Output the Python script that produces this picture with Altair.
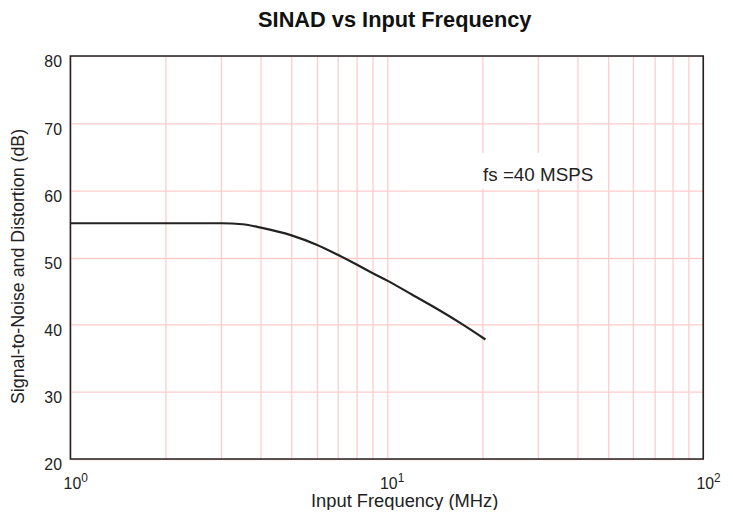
import altair as alt
import pandas as pd

# ---- data ----
freq_mhz = [1, 2, 3, 3.5, 4, 5, 6, 7, 8, 9, 10, 12, 14, 17, 20.5]
sinad_db = [55.1, 55.1, 55.1, 54.95, 54.45, 53.3, 51.9, 50.4, 49.0, 47.7, 46.6, 44.5, 42.7, 40.3, 37.8]

x_grid = [1, 2, 3, 4, 5, 6, 7, 8, 9, 10, 20, 30, 40, 50, 60, 70, 80, 90, 100]
y_ticks = [20, 30, 40, 50, 60, 70, 80]

x_tick_vals = [1, 10, 100]
x_tick_base = ["10", "10", "10"]
x_tick_exp = ["0", "1", "2"]

title_text = ["SINAD vs Input Frequency"]

ann_x = [20]
ann_y = [61.4]
ann_text = ["fs =40 MSPS"]
box_x = [19.6]
box_x2 = [33]
box_y = [60.25]
box_y2 = [65.6]

FONT = "Liberation Sans"
GRID = "#ffcccc"
INK = "#222222"
W, H = 639, 407

curve = pd.DataFrame({"f": freq_mhz, "s": sinad_db})
ticks = pd.DataFrame({"f": x_tick_vals, "b": x_tick_base, "e": x_tick_exp})
ann = pd.DataFrame({"f": ann_x, "s": ann_y, "t": ann_text})
box = pd.DataFrame({"f": box_x, "f2": box_x2, "s": box_y, "s2": box_y2})
ttl = pd.DataFrame({"t": title_text})

xscale = alt.Scale(type="log", domain=[1, 100], nice=False)
yscale = alt.Scale(domain=[20, 80], nice=False, zero=False)

xaxis = alt.Axis(values=x_grid, grid=True, gridColor=GRID, gridWidth=1.3,
                 labels=False, ticks=False, domain=False,
                 title="Input Frequency (MHz)", titleFont=FONT, titleFontSize=18.5,
                 titleFontWeight="normal", titleColor=INK, titleX=337, titleY=48,
                 titleBaseline="alphabetic", titleAlign="center")
yaxis = alt.Axis(values=y_ticks, grid=True, gridColor=GRID, gridWidth=1.3,
                 ticks=False, domain=False, labelFont=FONT, labelFontSize=16,
                 labelColor=INK, labelPadding=9, labelOffset=6,
                 title="Signal-to-Noise and Distortion (dB)", titleFont=FONT,
                 titleFontSize=18, titleFontWeight="normal", titleColor=INK,
                 titleX=-47, titleY=212, titleAngle=270,
                 titleBaseline="alphabetic", titleAlign="center")

xenc = lambda fld: alt.X(fld, type="quantitative", scale=xscale, axis=xaxis)
yenc = lambda fld: alt.Y(fld, type="quantitative", scale=yscale, axis=yaxis)

box_layer = alt.Chart(box).mark_rect(color="white").encode(
    x=xenc("f"), x2="f2", y=yenc("s"), y2="s2")

line_layer = alt.Chart(curve).mark_line(color=INK, strokeWidth=2.2,
                                        interpolate="monotone").encode(
    x=xenc("f"), y=yenc("s"))

ann_layer = alt.Chart(ann).mark_text(font=FONT, fontSize=19, color=INK,
                                     align="left", baseline="alphabetic", dx=1).encode(
    x=xenc("f"), y=yenc("s"), text="t:N")

base_layer = alt.Chart(ticks).mark_text(font=FONT, fontSize=16, color=INK,
                                        align="center", baseline="alphabetic", dx=2).encode(
    x=xenc("f"), y=alt.value(H + 30), text="b:N")

exp_layer = alt.Chart(ticks).mark_text(font=FONT, fontSize=12, color=INK,
                                       align="left", baseline="alphabetic", dx=11).encode(
    x=xenc("f"), y=alt.value(H + 23), text="e:N")

title_layer = alt.Chart(ttl).mark_text(font=FONT, fontSize=22, fontWeight="bold",
                                       color="#111111", align="center",
                                       baseline="alphabetic").encode(
    x=alt.value(W / 2 + 8), y=alt.value(-29), text="t:N")

frame_layer = alt.Chart(ttl).mark_rect(fill=None, fillOpacity=0, stroke=INK,
                                       strokeWidth=1.6).encode(
    x=alt.value(0), x2=alt.value(W), y=alt.value(0), y2=alt.value(H))

chart = alt.layer(box_layer, line_layer, ann_layer, base_layer, exp_layer,
                  title_layer, frame_layer).properties(
    width=W, height=H,
    padding={"left": 63, "top": 46, "right": 22, "bottom": 49},
    autosize=alt.AutoSizeParams(type="none"),
).configure(background="white").configure_view(stroke=None)

chart.save("out.html", embed_options={"renderer": "svg", "actions": False})
